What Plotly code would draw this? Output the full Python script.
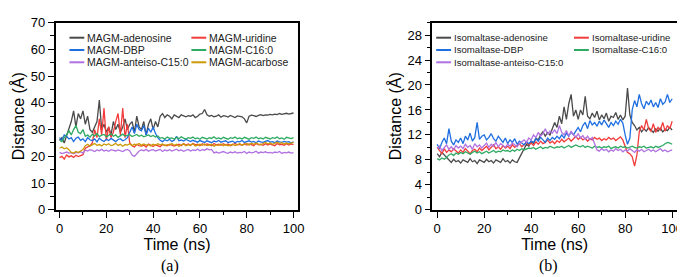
import plotly.graph_objects as go

# ---------------- data ----------------
TIME_NS = list(range(0, 101))

MAGM_NAMES = ["MAGM-adenosine", "MAGM-uridine", "MAGM-DBP",
              "MAGM-C16:0", "MAGM-anteiso-C15:0", "MAGM-acarbose"]
ISO_NAMES = ["Isomaltase-adenosine", "Isomaltase-uridine", "Isomaltase-DBP",
             "Isomaltase-C16:0", "Isomaltase-anteiso-C15:0"]

MAGM_ADENOSINE = [
    26, 27, 25, 28, 30, 33, 37, 31, 36, 34,
    37, 32, 35, 30, 29, 31, 33, 41, 30, 32,
    29, 31, 28, 33, 30, 32, 29, 31, 34, 30,
    32, 33, 29, 35, 31, 30, 33, 28, 32, 34,
    30, 33, 31, 35, 36, 34.5, 35.5, 35, 34, 35.5,
    35, 34.5, 35.5, 35, 34.8, 35.2, 35, 35.5, 34.5, 35,
    35.8, 36, 37.5, 35.5, 35, 35.3, 34.8, 35, 35.5, 34.6,
    35.2, 35, 34.7, 35.3, 35, 34.5, 35.1, 35, 34.8, 34,
    32.5, 35, 35.4, 35.2, 34.9, 35.3, 35.6, 35.2, 35.5, 35.4,
    35.7, 35.5, 35.8, 35.6, 36, 35.7, 35.9, 36.1, 35.8, 36,
    36.2]
MAGM_URIDINE = [
    19.5, 20, 19, 20.5, 19.8, 20.2, 19.6, 20.4, 19.9, 20.3,
    20.6, 23, 23.5, 24, 25, 30, 27, 34, 28, 38,
    26, 31, 27, 29, 33, 36, 28, 38, 27, 32,
    25, 24, 23.5, 24.5, 24, 23.8, 24.2, 23.5, 24.6, 24,
    23.7, 24.3, 24, 23.6, 24.4, 24.1, 23.9, 24.5, 24, 23.8,
    24.2, 24.5, 24, 24.8, 24.2, 24.6, 24.1, 24.9, 24.3, 24.5,
    24, 24.7, 24.2, 24.6, 24.4, 24, 24.8, 24.3, 24.5, 24.1,
    24.7, 24.2, 24.6, 24, 24.4, 24.8, 24.3, 24.5, 24.1, 24.7,
    24.2, 24.6, 24.4, 24, 24.8, 24.3, 24.5, 24.1, 24.7, 24.2,
    24.6, 24.4, 24, 24.8, 24.3, 24.5, 24.1, 24.7, 24.2, 24.6,
    24.4]
MAGM_DBP = [
    27, 26, 28, 27.5, 26.5, 27, 25.5, 26.8, 27.2, 26,
    26.5, 25.5, 27, 26.2, 25.8, 26.5, 25.4, 26.8, 26, 25.6,
    26.4, 25.9, 26.7, 26.1, 25.5, 26.3, 26.6, 25.8, 26.2, 27,
    29, 31, 28.5, 32, 30, 29.5, 31.5, 28, 30.5, 29,
    31, 28.5, 27, 26, 25.5, 26.2, 25.8, 26.4, 25.6, 26,
    27.5, 25.8, 26.1, 25.7, 26.3, 25.9, 25.5, 26, 25.7, 25.3,
    25.9, 25.6, 25.2, 25.8, 25.5, 25.1, 25.7, 25.4, 25.9, 25.3,
    25.6, 25.8, 25.2, 25.5, 25.7, 25.1, 25.6, 25.4, 25.9, 25.2,
    25.5, 25.8, 25.3, 25.6, 25.1, 25.7, 25.4, 25.2, 25.6, 25.9,
    25.3, 25.5, 25.1, 25.7, 25.4, 25.2, 25.6, 25.3, 25.5, 25,
    25.4]
MAGM_C16 = [
    26, 25.5, 27, 28, 29.5, 28, 30, 31.5, 29, 28.5,
    30, 27.5, 28, 27.2, 28.3, 27.6, 28.5, 27.4, 27.9, 28.2,
    27.3, 27.8, 28.4, 27.5, 28, 27.1, 27.7, 28.3, 27.6, 27.9,
    28.1, 27.4, 27.8, 28.2, 27.5, 27.9, 27.3, 27.7, 28, 27.4,
    27.8, 27.2, 27.6, 26.8, 27, 26.5, 27.2, 26.7, 26.9, 26.4,
    27.1, 26.6, 27.3, 26.8, 26.5, 27, 26.7, 27.2, 26.6, 26.9,
    26.4, 27.1, 26.8, 26.5, 27, 26.7, 27.3, 26.6, 26.9, 26.5,
    27.1, 26.8, 26.4, 27, 26.7, 27.2, 26.6, 26.9, 26.5, 27.1,
    26.8, 26.4, 27, 26.7, 27.2, 26.6, 26.9, 26.5, 27.1, 26.8,
    26.5, 27, 26.7, 27.2, 26.6, 26.9, 26.4, 27.1, 26.8, 26.6,
    27]
MAGM_ANTEISO = [
    21.5, 21, 21.3, 21.6, 21.2, 21.4, 21, 21.5, 21.3, 21.7,
    21.2, 22.3, 22, 22.5, 22.2, 21.8, 22.4, 22.1, 22.6, 22,
    22.3, 21.9, 22.5, 22.2, 22, 22.4, 22.1, 21.8, 22.3, 22.6,
    22, 20.5, 20, 21, 22, 22.4, 22.1, 22.6, 21.9, 22.3,
    22.5, 22, 22.2, 22.6, 21.8, 22.4, 22.1, 22.5, 22, 22.3,
    22.7, 22.1, 22.4, 21.9, 22.3, 22.6, 22, 22.4, 22.2, 22.7,
    22.1, 22.5, 22.3, 22.8, 22.4, 22.6, 21.3, 21.6, 21.2, 21.5,
    21.8, 21.4, 21.1, 21.6, 21.3, 21.7, 21.2, 21.5, 21.4, 21.8,
    21.1, 21.6, 21.3, 21.5, 21.9, 21.2, 21.6, 21.4, 21.7, 21.3,
    21.5, 21.2, 21.6, 21.4, 21.8, 21.1, 21.5, 21.3, 21.6, 21.2,
    21.4]
MAGM_ACARBOSE = [
    23, 23.5, 22.8, 23.2, 22.5, 21.5, 21.2, 21.8, 21.4, 22,
    22.5, 24, 24.5, 23.8, 24.3, 24.8, 24.1, 24.4, 23.9, 24.6,
    24.2, 24.7, 24, 24.3, 24.9, 24.1, 24.5, 23.8, 24.4, 24.2,
    24.7, 24, 24.5, 24.3, 24.8, 24.1, 24.6, 24.2, 24.4, 23.9,
    24.5, 24.1, 24.7, 24.3, 24.6, 24, 24.4, 24.2, 24.8, 24.1,
    24.5, 23.7, 24.3, 24.6, 24, 24.4, 24.2, 24.7, 23.9, 24.3,
    24.5, 24.1, 24.6, 24, 24.2, 24.5, 23.8, 24.3, 24.1, 24.6,
    24, 24.4, 23.9, 24.2, 24.5, 24, 24.3, 24.7, 24.1, 24.4,
    24.8, 24.2, 24.9, 24.5, 25, 24.6, 24.3, 24.8, 25.2, 24.7,
    25, 24.5, 24.9, 25.3, 24.8, 25.1, 24.6, 25, 24.7, 24.9,
    25.2]

ISO_ADENOSINE = [
    9, 8.5, 9.2, 8.8, 8.3, 8, 7.6, 8.1, 7.7, 7.9,
    7.5, 8, 7.8, 7.6, 8.2, 7.7, 7.9, 7.4, 8, 7.8,
    7.6, 8.1, 7.7, 7.9, 7.5, 8, 7.8, 7.6, 8.2, 7.7,
    7.9, 7.5, 8, 7.7, 7.6, 8.3, 9, 9.8, 10.5, 10.2,
    11, 10.6, 11.5, 11.2, 12, 12.5, 11.8, 12.4, 12, 13,
    14, 13.2, 15, 13.8, 16.5, 14.5, 17, 18.5, 15, 16,
    14.5, 16, 15.2, 18.2, 15, 14.6, 15.5, 14.8, 15.8, 14.4,
    15.2, 14.6, 15.5, 14.2, 15, 14.8, 15.6, 14.5, 15.2, 14.4,
    15, 19.5, 15.2, 14, 13.5, 12.8, 13.2, 12.5, 13, 12.6,
    13.2, 12.8, 12.4, 13, 12.6, 13.1, 12.5, 12.9, 12.7, 13.2,
    12.8]
ISO_URIDINE = [
    10, 9.5, 9, 9.8, 9.2, 9.6, 9.3, 9.8, 9.4, 9.1,
    9.6, 9.2, 9.8, 9.4, 9, 9.5, 9.7, 9.3, 9.9, 9.5,
    9.8, 10.2, 9.6, 10, 10.4, 9.8, 10.1, 9.7, 10.3, 9.9,
    10.2, 9.8, 10.4, 10, 10.3, 10.6, 10.1, 10.5, 10.8, 10.4,
    10.7, 10.3, 10.9, 10.5, 11, 10.6, 10.8, 11.2, 10.7, 11,
    10.6, 11.1, 10.8, 11.3, 10.9, 11.2, 11.5, 11, 11.4, 11.8,
    11.3, 11.6, 11.2, 11.5, 11, 11.4, 11.2, 11.6, 11.3, 11.5,
    11.1, 11.4, 11.2, 11.6, 11.3, 11.5, 11.1, 11.4, 11.7, 11.2,
    10, 9.2, 9, 8.5, 7, 8.8, 12.5, 13.5, 12.8, 14.5,
    13, 12.6, 13.8, 12.4, 13.2, 12.8, 14, 12.6, 13.5, 13,
    14.2]
ISO_DBP = [
    10.5, 9.8, 10.8, 11.5, 10.6, 13, 11, 10.4, 11.2, 10.8,
    11.5, 10.6, 11.8, 11.2, 12.3, 11, 11.6, 14, 11.3, 11.8,
    12, 11.2, 11.6, 12.2, 11.4, 11, 11.8, 11.2, 10.8, 11.5,
    10.6, 11.2, 10.8, 11.4, 10.5, 11, 10.7, 10.4, 10.9, 10.6,
    11, 10.8, 11.4, 11, 11.6, 11.2, 10.8, 11.5, 11.1, 11.6,
    11.3, 11.8, 11.4, 12, 11.5, 12.3, 11.8, 12.5, 12, 12.6,
    13.2, 12.5, 13.5, 14, 13, 14.3, 13.6, 14, 13.4, 14.2,
    13.6, 14.4, 13.8, 13.2, 14, 13.5, 14.2, 13.7, 14.5, 13.9,
    12, 10.5, 11.5, 16, 17.5, 16.5, 18.5, 17, 16.2, 17.4,
    16.8, 17.6, 16.5, 17.2, 16.4, 17.8, 16.9, 17.3, 18.5, 17.2,
    17.8]
ISO_C16 = [
    8.2, 8, 8.3, 8.1, 8.4, 8.8, 9, 8.7, 9.1, 8.9,
    9.2, 9, 9.3, 9.1, 8.9, 9.2, 9.4, 9.1, 9.3, 9,
    9.2, 9.4, 9.1, 9.3, 9.5, 9.2, 9.4, 9.3, 9.6, 9.4,
    9.5, 9.3, 9.6, 9.4, 9.7, 9.5, 9.8, 9.6, 9.7, 9.9,
    9.8, 10, 9.7, 9.9, 10.1, 9.8, 10, 9.9, 10.2, 10,
    9.9, 10.1, 10, 10.2, 9.9, 10.1, 10.3, 10, 10.2, 10.4,
    10.2, 10.1, 10.3, 10, 10.2, 10.1, 9.9, 10.2, 10, 10.1,
    9.9, 10.1, 10, 10.2, 9.8, 10, 10.1, 9.9, 10.2, 10,
    10.1, 9.9, 10, 10.2, 10, 9.9, 10.1, 10, 10.2, 9.9,
    10, 10.1, 9.9, 10.2, 10, 10.1, 10.3, 10.6, 10.8, 10.7,
    10.5]
ISO_ANTEISO = [
    9.8, 10.2, 9.5, 10, 10.4, 9.7, 10.1, 9.6, 10.3, 9.9,
    10.2, 9.8, 10.5, 10, 10.3, 9.7, 10.6, 10.1, 10.4, 9.9,
    10.3, 10.7, 10, 10.5, 10.2, 10.8, 10.1, 10.6, 10.3, 10,
    10.5, 10.2, 10.7, 10.4, 10.1, 10.6, 10.9, 11.2, 10.8, 11.5,
    11.2, 12, 11.6, 12.4, 11.8, 12.2, 13, 12.1, 12.6, 12.3,
    12.8, 12.2, 13.5, 12.4, 12, 12.7, 11.8, 12.5, 12, 11.6,
    12.2, 11.5, 11.9, 11.3, 11.8, 11.2, 11.6, 10.5, 9.6, 9.4,
    9.8, 9.5, 9.7, 9.3, 9.6, 9.4, 9.8, 9.5, 9.7, 9.3,
    9.6, 9.4, 9.8, 9.5, 9.2, 9.6, 9.4, 9.7, 9.3, 9.5,
    9.7, 9.4, 9.6, 9.3, 9.5, 9.8, 9.4, 9.6, 9.3, 9.5,
    9.6]

X_TICKS = [0, 20, 40, 60, 80, 100]
MAGM_Y_TICKS = [0, 10, 20, 30, 40, 50, 60, 70]
ISO_Y_TICKS = [0, 4, 8, 12, 16, 20, 24, 28]

# ---------------- styles ----------------
COLORS = ["#4a4a4a", "#f23c3c", "#1f6fe0", "#2eaa62", "#b072e0", "#cc9a06"]
FONT = "Arial, Liberation Sans, sans-serif"
SERIF = "Times New Roman, Liberation Serif, serif"
W, H = 685, 277

# plot frames in pixels
L1, R1 = 48, 293
L2, R2 = 428, 675
TOP, BOT = 8, 206

fig = go.Figure()

magm_series = [MAGM_ADENOSINE, MAGM_URIDINE, MAGM_DBP, MAGM_C16, MAGM_ANTEISO, MAGM_ACARBOSE]
iso_series = [ISO_ADENOSINE, ISO_URIDINE, ISO_DBP, ISO_C16, ISO_ANTEISO]

for name, ys, col in zip(MAGM_NAMES, magm_series, COLORS):
    fig.add_trace(go.Scatter(x=TIME_NS, y=ys, name=name, mode="lines",
                             line=dict(color=col, width=1.3), xaxis="x", yaxis="y",
                             showlegend=False))
for name, ys, col in zip(ISO_NAMES, iso_series, COLORS):
    fig.add_trace(go.Scatter(x=TIME_NS, y=ys, name=name, mode="lines",
                             line=dict(color=col, width=1.3), xaxis="x2", yaxis="y2",
                             showlegend=False))

MINOR = dict(ticks="outside", ticklen=3.5, tickwidth=1.1, tickcolor="black")

def axis(**kw):
    d = dict(showline=True, mirror=True, linecolor="black", linewidth=1.5,
             ticks="outside", ticklen=6, tickwidth=1.3, tickcolor="black",
             showgrid=False, zeroline=False,
             tickfont=dict(family=FONT, size=13, color="black"))
    d.update(kw)
    return d

xdom1 = [L1 / W, R1 / W]
xdom2 = [L2 / W, R2 / W]
ydom = [1 - BOT / H, 1 - TOP / H]
TITLE_FONT = dict(family=FONT, size=16, color="black")

fig.update_layout(
    width=W, height=H,
    margin=dict(l=0, r=0, t=0, b=0),
    paper_bgcolor="white", plot_bgcolor="white",
    xaxis=axis(domain=xdom1, anchor="y", range=[-1.7, 102.1], tickvals=X_TICKS,
               minor=dict(dtick=10, tick0=0, **MINOR),
               title=dict(text="Time (ns)", font=TITLE_FONT, standoff=4)),
    yaxis=axis(domain=ydom, anchor="x", range=[0, 70], tickvals=MAGM_Y_TICKS,
               minor=dict(dtick=5, tick0=0, **MINOR),
               title=dict(text="Distance (Å)", font=TITLE_FONT, standoff=2)),
    xaxis2=axis(domain=xdom2, anchor="y2", range=[-2.1, 102.1], tickvals=X_TICKS,
                minor=dict(dtick=10, tick0=0, **MINOR),
                title=dict(text="Time (ns)", font=TITLE_FONT, standoff=4)),
    yaxis2=axis(domain=ydom, anchor="x2", range=[0, 30], tickvals=ISO_Y_TICKS,
                minor=dict(dtick=2, tick0=0, **MINOR),
                title=dict(text="Distance (Å)", font=TITLE_FONT, standoff=2)),
)

# legends drawn inside each panel (two columns, three rows)
def add_legend(names, xref, yref, left, right, col_px, row_px, fsize):
    width = right - left
    for i, (name, col) in enumerate(zip(names, COLORS)):
        c, r = i % 2, i // 2
        x0 = (col_px[c] - left) / width
        x1 = (col_px[c] + 15 - left) / width
        xt = (col_px[c] + 16 - left) / width
        yy = (BOT - row_px[r]) / (BOT - TOP)
        fig.add_shape(type="line", xref=xref, yref=yref, x0=x0, x1=x1, y0=yy, y1=yy,
                      line=dict(color=col, width=2))
        fig.add_annotation(xref=xref, yref=yref, x=xt, y=yy, text=name, showarrow=False,
                           xanchor="left", yanchor="middle",
                           font=dict(family=FONT, size=fsize, color="#222"))

add_legend(MAGM_NAMES, "x domain", "y domain", L1, R1, [62, 185], [24, 37, 50], 10.5)
add_legend(ISO_NAMES, "x2 domain", "y2 domain", L2, R2, [432, 571], [24, 37, 50], 9.6)

fig.add_annotation(xref="paper", yref="paper", x=163 / W, y=1 - 265 / H, text="(a)",
                   showarrow=False, xanchor="center", yanchor="middle",
                   font=dict(family=SERIF, size=16, color="black"))
fig.add_annotation(xref="paper", yref="paper", x=545 / W, y=1 - 265 / H, text="(b)",
                   showarrow=False, xanchor="center", yanchor="middle",
                   font=dict(family=SERIF, size=16, color="black"))

fig.write_html("out.html")
